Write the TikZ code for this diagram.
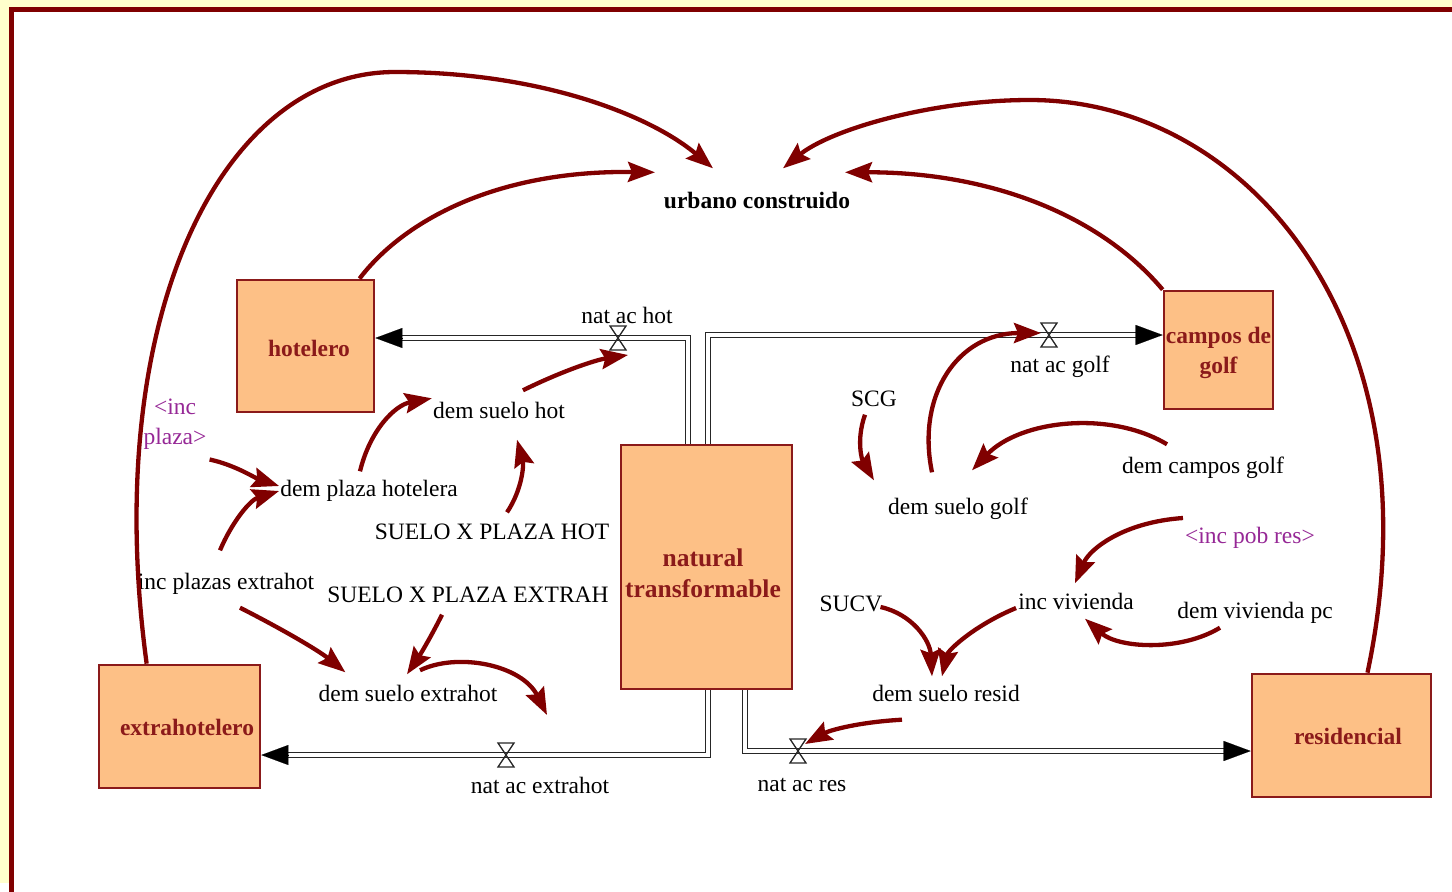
\documentclass[tikz,border=0pt]{standalone}
\usepackage{fontspec}
\setmainfont{Liberation Serif}
\usetikzlibrary{arrows.meta,calc}
\definecolor{lnkred}{RGB}{128,0,0}
\definecolor{stockfill}{RGB}{253,192,134}
\definecolor{stockedge}{RGB}{139,26,26}
\definecolor{ghostcol}{RGB}{150,40,150}
\definecolor{paper}{RGB}{255,255,204}
\begin{document}
\begin{tikzpicture}[x=1pt,y=-1pt,
  every node/.style={font=\fontsize{23.5}{30}\selectfont},
  var/.style={inner sep=1pt,text height=19pt,text depth=2pt},
  ghostvar/.style={inner sep=1pt,align=center,text=ghostcol},
  stock/.style={draw=stockedge,line width=2.7pt,fill=stockfill,inner sep=1pt},
  stocklabel/.style={align=center,text=stockedge,inner sep=0pt,
    font=\fontsize{23.5}{30}\selectfont\bfseries},
  link/.style={draw=lnkred,line width=4.3pt,
    -{Stealth[length=27pt,width=20pt,inset=4pt]}},
  pipe/.style={draw=black!85,line width=1.4pt,double=white,double distance=3.6pt},
  pipetip/.style={draw=black,line width=0.1pt,-{Triangle[length=27pt,width=20pt]}},
  valve/.style={minimum width=16pt,minimum height=24pt,inner sep=0pt,outer sep=0pt},
  valveline/.style={draw=black!85,line width=1.3pt,line join=miter}
]
\useasboundingbox (0,0) rectangle (1452,892);
% frame
\fill[white] (0,0) rectangle (1452,892);
\fill[paper] (0,0) rectangle (1452,883);
\fill[white] (14,12) rectangle (1452,892);
\draw[lnkred,line width=5pt,line join=miter] (11.5,892) -- (11.5,9.5) -- (1452,9.5);

% stocks
\node[stock,minimum width=137pt,minimum height=132pt,
  label={[stocklabel,xshift=3.5pt,yshift=-2pt]center:hotelero}] (hot) at (305.5,346) {};
\node[stock,minimum width=109pt,minimum height=118pt,
  label={[stocklabel,yshift=-3pt]center:campos de\\golf}] (cg) at (1218.5,350) {};
\node[stock,minimum width=171pt,minimum height=244pt,
  label={[stocklabel,xshift=-3.5pt,yshift=-6pt,font=\fontsize{25.5}{31}\selectfont\bfseries]center:natural\\transformable}] (nat) at (706.5,567) {};
\node[stock,minimum width=161pt,minimum height=123pt,
  label={[stocklabel,xshift=7.5pt,yshift=-1pt]center:extrahotelero}] (ext) at (179.5,726.5) {};
\node[stock,minimum width=179pt,minimum height=123pt,
  label={[stocklabel,xshift=6.5pt,yshift=-1pt]center:residencial}] (res) at (1341.5,735.5) {};

% auxiliary variables
\node[var,font=\fontsize{23.5}{30}\selectfont\bfseries] (urb) at (757,200) {urbano construido};
\node[var] (nah) at (627,315) {nat ac hot};
\node[var] (dsh) at (499,410) {dem suelo hot};
\node[ghostvar] (ip) at (175,424) {<inc\\plaza>};
\node[var] (dph) at (369,488) {dem plaza hotelera};
\node[var] (sxph) at (492,531) {SUELO X PLAZA HOT};
\node[var] (ipe) at (226,581) {inc plazas extrahot};
\node[var] (sxpe) at (468,594) {SUELO X PLAZA EXTRAH};
\node[var] (dse) at (408,693) {dem suelo extrahot};
\node[var] (nae) at (540,785) {nat ac extrahot};
\node[var] (nar) at (802,783) {nat ac res};
\node[var] (dsr) at (946,693) {dem suelo resid};
\node[var] (sucv) at (851,603) {SUCV};
\node[var] (iv) at (1076,601) {inc vivienda};
\node[var] (dvpc) at (1255,610) {dem vivienda pc};
\node[var,text=ghostcol] (ipr) at (1250,535) {<inc pob res>};
\node[var] (dsg) at (958,506) {dem suelo golf};
\node[var] (dcg) at (1203,465) {dem campos golf};
\node[var] (scg) at (874,398) {SCG};
\node[var] (nag) at (1060,364) {nat ac golf};

% valves
\node[valve] (vhot) at (618,338) {};
\node[valve] (vgolf) at (1049,335) {};
\node[valve] (vext) at (506,755) {};
\node[valve] (vres) at (798,751) {};

% flow pipes
\draw[pipe,shorten >=26pt] ($(nat.north)+(-18.5,0)$) |- (vhot.center) -- (hot.east |- vhot.center);
\draw[pipe,shorten >=26pt] ($(nat.north)+(1.5,0)$) |- (vgolf.center) -- (cg.west |- vgolf.center);
\draw[pipe,shorten >=26pt] ($(nat.south)+(1.5,0)$) |- (vext.center) -- (ext.east |- vext.center);
\draw[pipe,shorten >=26pt] ($(nat.south)+(38.5,0)$) |- (vres.center) -- (res.west |- vres.center);
\draw[pipetip] ($(hot.east |- vhot.center)+(27,0)$) -- (hot.east |- vhot.center);
\draw[pipetip] ($(cg.west |- vgolf.center)+(-27,0)$) -- (cg.west |- vgolf.center);
\draw[pipetip] ($(ext.east |- vext.center)+(27,0)$) -- (ext.east |- vext.center);
\draw[pipetip] ($(res.west |- vres.center)+(-27,0)$) -- (res.west |- vres.center);
\foreach \v in {vhot,vgolf,vext,vres}
  \draw[valveline] (\v.north west) -- (\v.north east) -- (\v.south west) -- (\v.south east) -- cycle;

% links into urbano construido
\draw[link] ($(ext.north west)+(49,0)$) .. controls (100,320) and (220,72) .. (395,72)
  .. controls (540,72) and (650,115) .. ($(urb.north)+(-44,-20)$);
\draw[link] ($(hot.north)+(54,0)$) .. controls (400,225) and (490,170) .. ($(urb.north)+(-102,-16)$);
\draw[link] (cg.north west) .. controls (1100,215) and (990,172) .. ($(urb.north)+(88,-16)$);
\draw[link] ($(res.north)+(26,0)$) .. controls (1440,330) and (1250,100) .. (1030,100)
  .. controls (930,100) and (830,130) .. ($(urb.north)+(26,-20)$);

% hotel sector
\draw[link] ($(dph.north)+(-9,-5)$) .. controls (370,430) and (395,405) .. (dsh.north west);
\draw[link] ($(sxph.north)+(15,-7)$) .. controls (522,490) and (524,465) .. ($(dsh.south)+(18,18)$);
\draw[link] ($(dsh.north)+(24,-8)$) .. controls (560,372) and (595,360) .. ($(vhot.south)+(10,5)$);
\draw[link] ($(ip.south east)+(2,9)$) .. controls (235,465) and (255,478) .. ($(dph.west)+(0,-2)$);
\draw[link] ($(ipe.north)+(-6,-19)$) .. controls (232,522) and (250,500) .. ($(dph.west)+(0,3)$);
\draw[link] ($(ipe.south)+(14,15)$) .. controls (280,628) and (318,650) .. ($(dse.north west)+(28,-9)$);
\draw[link] ($(sxpe.south)+(-26,9)$) .. controls (432,635) and (420,655) .. ($(dse.north)+(-1,-7)$);
\draw[link] ($(dse.north)+(12,-11)$) .. controls (458,652) and (522,665) .. ($(vext.north)+(41,-28)$);

% golf sector
\draw[link] ($(scg.south)+(-9,5)$) .. controls (856,440) and (862,460) .. ($(dsg.north west)+(-13,-14)$);
\draw[link] ($(dsg.north)+(-26,-22)$) .. controls (916,395) and (958,333) .. ($(vgolf.west)+(0,-2)$);
\draw[link] ($(dcg.north)+(-36,-9)$) .. controls (1110,410) and (1020,420) .. ($(dsg.north)+(14,-24)$);

% residential sector
\draw[link] ($(ipr.west)+(-1,-17)$) .. controls (1125,522) and (1090,548) .. ($(iv.north)+(-1,-6)$);
\draw[link] ($(dvpc.south)+(-35,6)$) .. controls (1180,652) and (1118,648) .. ($(iv.south)+(9,6)$);
\draw[link] ($(sucv.east)+(-3,4)$) .. controls (912,614) and (930,640) .. ($(dsr.north)+(-14,-5)$);
\draw[link] ($(iv.west)+(-1,7)$) .. controls (975,625) and (948,650) .. ($(dsr.north)+(-4,-5)$);
\draw[link] ($(dsr.south)+(-44,15)$) .. controls (860,722) and (830,730) .. ($(vres.north)+(7,5)$);
\end{tikzpicture}
\end{document}
